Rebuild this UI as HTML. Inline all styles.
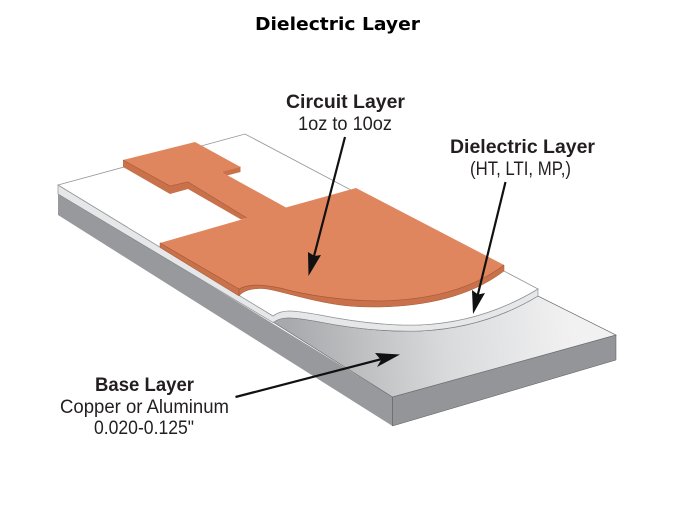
<!DOCTYPE html>
<html><head><meta charset="utf-8"><style>html,body{margin:0;padding:0;background:#fff}svg{display:block}</style></head>
<body>
<svg width="675" height="506" viewBox="0 0 675 506" xmlns="http://www.w3.org/2000/svg">
<defs>
<linearGradient id="g" gradientUnits="userSpaceOnUse" x1="290" y1="350" x2="570" y2="320">
<stop offset="0" stop-color="#a7a9ac"/><stop offset="0.55" stop-color="#d9dadb"/><stop offset="1" stop-color="#f1f1f2"/>
</linearGradient>
</defs>
<text x="337.500" y="30" text-anchor="middle" font-family="'DejaVu Sans',sans-serif" font-weight="700" font-size="17.500" textLength="165" lengthAdjust="spacingAndGlyphs" fill="#000">Dielectric Layer</text>

<!-- base sides -->
<polygon points="58,192 392.500,397 392.500,426 58,215" fill="#97999c"/>
<polygon points="392.500,397 616,335 616,360 392.500,426" fill="#939598" stroke="#58595b" stroke-width=".5"/>
<!-- base top -->
<path d="M273,322 C282,316 292,317 320,322 C350,328 385,332 420,331 C465,329 505,316 538,296 L616,335 L392.500,397 Z" fill="url(#g)" stroke="#6d6e71" stroke-width=".7"/>
<line x1="392.500" y1="397" x2="392.500" y2="426" stroke="#6d6e71" stroke-width=".7"/>
<!-- dielectric side + strip -->
<path d="M58,185 L273,316 C282,309 292,310 320,315 C350,321 385,326 420,325 C465,323 505,309 538,289 L538,296 C505,316 465,329 420,331 C385,332 350,328 320,322 C292,317 282,316 273,322.500 L58,194 Z" fill="#e6e7e8" stroke="#808285" stroke-width=".6"/>
<!-- dielectric top -->
<path d="M58,185 L245,134 L538,289 C505,309 465,323 420,325 C385,326 350,321 320,315 C292,310 282,309 273,316 Z" fill="#fff" stroke="#939598" stroke-width=".8"/>

<!-- copper side -->
<path d="M123,160 L123,167 L170,194 L188,189 L188,182 Z" fill="#c9714a"/>
<path d="M188,182 L188,189 L241,219.500 L247,218 Z" fill="#c9714a"/>
<path d="M221.500,171.500 L226,175.700 L240.500,172 L240.500,166.500 Z" fill="#c9714a"/>
<path d="M160,243 L160,247.500 L239,296 C243,291 250,288.500 262,288.500 C275,289 305,300 340,305 C355,307 368,307 380,307 C425,306 470,297 504,271 L504,265 L400,262 Z" fill="#c9714a" stroke="#a65a38" stroke-width=".5"/>
<!-- copper top -->
<path d="M123,160 L195,142 L240.500,167 L221.500,172 L286,207.500 L356,188 L504,265 C470,291 425,300 380,301 C345,301 305,295 280,288 C260,284 248,284 239,289 L160,243 L247,218 L188,182 L170,186 Z" fill="#e0865e"/>
<path d="M247,218 L188,182 L170,186 L123,160" fill="none" stroke="#a65a38" stroke-width=".6"/>
<path d="M160,243 L239,289 C248,284 260,284 280,288 C305,295 345,301 380,301 C425,300 470,291 504,265" fill="none" stroke="#a65a38" stroke-width=".7"/>
<line x1="239" y1="289" x2="239" y2="296" stroke="#a65a38" stroke-width=".7"/>

<!-- arrows -->
<g stroke="#111" stroke-width="2.200" fill="#111">
<line x1="345" y1="137" x2="313" y2="260"/>
<line x1="505.500" y1="182" x2="477" y2="298"/>
<line x1="235.500" y1="397" x2="382" y2="359"/>
</g>
<g fill="#111">
<polygon points="308.500,276 308,252 314.500,256 321,255"/>
<polygon points="473,314 472,290 478,294.500 485,293"/>
<polygon points="400,354.500 375,353 381,360 377,367"/>
</g>

<g font-family="'Liberation Sans',sans-serif" fill="#231f20" text-anchor="middle">
<g font-weight="700" font-size="19">
<text x="345.500" y="108" textLength="119" lengthAdjust="spacingAndGlyphs">Circuit Layer</text>
<text x="522.500" y="153" textLength="145" lengthAdjust="spacingAndGlyphs">Dielectric Layer</text>
<text x="144.500" y="391" textLength="99" lengthAdjust="spacingAndGlyphs">Base Layer</text>
</g>
<g font-size="19">
<text x="345" y="130" textLength="94" lengthAdjust="spacingAndGlyphs">1oz to 10oz</text>
<text x="520.500" y="175" textLength="101" lengthAdjust="spacingAndGlyphs">(HT, LTI, MP,)</text>
<text x="144.500" y="413" textLength="169" lengthAdjust="spacingAndGlyphs">Copper or Aluminum</text>
<text x="144" y="434" textLength="100" lengthAdjust="spacingAndGlyphs">0.020-0.125"</text>
</g>
</g>
</svg>
</body></html>
